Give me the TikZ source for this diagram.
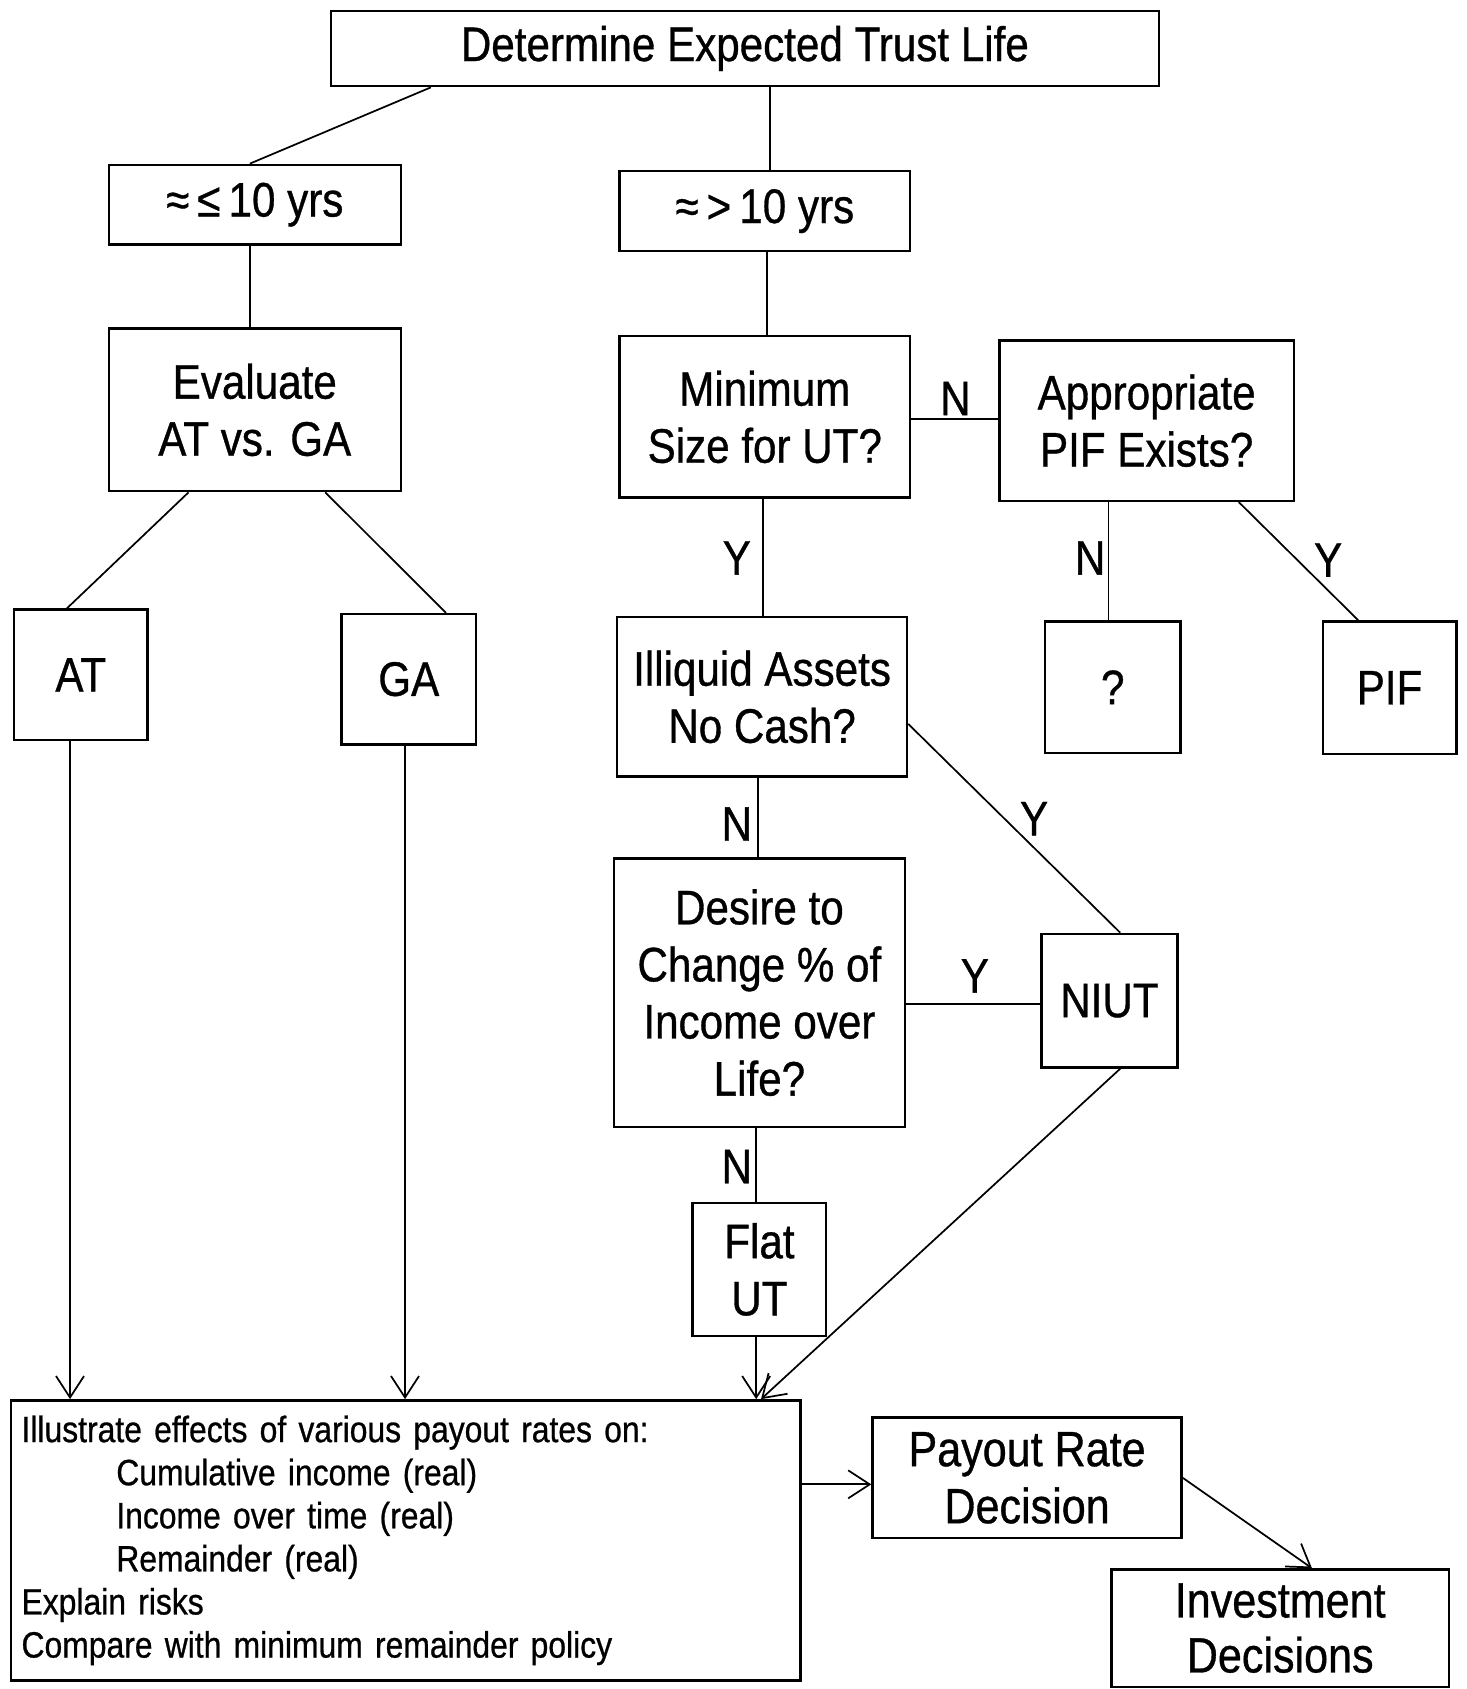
\documentclass[tikz,border=0pt]{standalone}
\usepackage{fontspec}
\setmainfont[FakeStretch=0.87,FakeBold=0.7]{Liberation Sans}
\usetikzlibrary{arrows.meta}
\begin{document}
\begin{tikzpicture}[x=0.5pt,y=-0.5pt,
  box/.style={draw, line width=1.1pt, inner sep=0pt, align=center, font=\fontsize{22.5}{26.5}\selectfont},
  conn/.style={line width=0.8pt},
  arr/.style={conn, -{Straight Barb[length=10pt,width=13pt,line width=0.8pt]}},
  lab/.style={font=\fontsize{22.5}{26.5}\selectfont, inner sep=0pt}]
\useasboundingbox (0,0) rectangle (1361,1568);
\fill[white] (0,0) rectangle (1361,1568);

\node[box, minimum width=384.5pt, minimum height=35pt] (top) at (691.5,45) {Determine Expected Trust Life};
\node[box, minimum width=135.5pt, minimum height=37pt] (le10) at (236.5,190) {≈\,≤\,10 yrs};
\node[box, minimum width=135pt, minimum height=37pt] (gt10) at (710,196) {≈\,>\,10 yrs};
\node[box, minimum width=135.5pt, minimum height=75.5pt] (eval) at (236.5,380.5) {Evaluate\\AT vs. GA};
\node[box, minimum width=135pt, minimum height=75pt] (minsize) at (710,387) {Minimum\\Size for UT?};
\node[box, minimum width=136.5pt, minimum height=74.5pt] (pifq) at (1064.5,390.5) {Appropriate\\PIF Exists?};
\node[box, minimum width=62pt, minimum height=60.5pt] (at) at (75,626.5) {AT};
\node[box, minimum width=62.5pt, minimum height=60.5pt] (ga) at (379.5,630.5) {GA};
\node[box, minimum width=134.5pt, minimum height=74pt] (illiq) at (707.5,647) {Illiquid Assets\\No Cash?};
\node[box, minimum width=63pt, minimum height=61pt] (qm) at (1033,638) {?};
\node[box, minimum width=62pt, minimum height=61.5pt] (pif) at (1290,638.5) {PIF};
\node[box, minimum width=135pt, minimum height=124.5pt] (desire) at (705,921.5) {Desire to\\Change \% of\\Income over\\Life?};
\node[box, minimum width=63pt, minimum height=62pt] (niut) at (1030,929) {NIUT};
\node[box, minimum width=62pt, minimum height=61.5pt] (flat) at (705,1178.5) {Flat\\UT};
\node[box, minimum width=366.5pt, minimum height=130pt, text width=356.5pt, inner xsep=5pt, align=left, font=\fontsize{17}{20}\selectfont] (bottom) at (376.5,1430) {Illustrate effects of various payout rates on:\\
\hspace*{44pt}Cumulative income (real)\\
\hspace*{44pt}Income over time (real)\\
\hspace*{44pt}Remainder (real)\\
Explain risks\\
Compare with minimum remainder policy};
\node[box, minimum width=143.5pt, minimum height=56pt, font=\fontsize{23}{26.5}\selectfont] (payout) at (953.5,1372) {Payout Rate\\Decision};
\node[box, minimum width=156.5pt, minimum height=54.5pt, font=\fontsize{23}{25.5}\selectfont] (invest) at (1188.5,1511.5) {Investment\\Decisions};

% connectors
\draw[conn] ([xshift=-145.75pt]top.south) -- ([xshift=-2.25pt]le10.north);
\coordinate (g1) at ([xshift=2.5pt]gt10.north);
\draw[conn] (g1 |- top.south) -- (g1);
\draw[conn] ([xshift=-2.25pt]le10.south) -- ([xshift=-2.25pt]eval.north);
\draw[conn] ([xshift=1pt]gt10.south) -- ([xshift=1pt]minsize.north);
\draw[conn] ([xshift=-30.75pt]eval.south) -- ([xshift=-6.5pt]at.north);
\draw[conn] ([xshift=32.75pt]eval.south) -- ([xshift=17.25pt]ga.north);
\coordinate (m1) at ([yshift=-1pt]minsize.east);
\draw[conn] (m1) -- (m1 -| pifq.west);
\coordinate (m2) at ([xshift=-1pt]minsize.south);
\draw[conn] (m2) -- (m2 |- illiq.north);
\coordinate (q1) at ([xshift=-2pt]qm.north);
\draw[conn] (q1 |- pifq.south) -- (q1);
\draw[conn] ([xshift=42.75pt]pifq.south) -- ([xshift=-14.5pt]pif.north);
\draw[conn] ([yshift=-12.5pt]illiq.east) -- ([xshift=5pt]niut.north);
\coordinate (d1) at ([xshift=-0.5pt]desire.north);
\draw[conn] (d1 |- illiq.south) -- (d1);
\coordinate (d2) at ([yshift=-5.25pt]desire.east);
\draw[conn] (d2) -- (d2 -| niut.west);
\coordinate (f1) at ([xshift=-1.5pt]flat.north);
\draw[conn] (f1 |- desire.south) -- (f1);
\coordinate (a1) at ([xshift=-5pt]at.south);
\draw[arr] (a1) -- (a1 |- bottom.north);
\coordinate (a2) at ([xshift=-1.75pt]ga.south);
\draw[arr] (a2) -- (a2 |- bottom.north);
\coordinate (a3) at ([xshift=-1.5pt]flat.south);
\draw[arr] (a3) -- (a3 |- bottom.north);
\draw[arr] ([xshift=5pt]niut.south) -- ([xshift=165pt]bottom.north);
\coordinate (b1) at ([yshift=26pt]bottom.east);
\draw[arr] (b1) -- (b1 -| payout.west);
\draw[arr] (payout.east) -- ([xshift=14.75pt]invest.north);

% labels
\node[lab] (lN1) at (887,370) {N};
\node[lab] (lY1) at (684,518) {Y};
\node[lab] (lN2) at (1012,518) {N};
\node[lab] (lY2) at (1233,520) {Y};
\node[lab] (lY3) at (960,760) {Y};
\node[lab] (lN3) at (684,765) {N};
\node[lab] (lY4) at (905,906) {Y};
\node[lab] (lN4) at (684,1083) {N};
\end{tikzpicture}
\end{document}
